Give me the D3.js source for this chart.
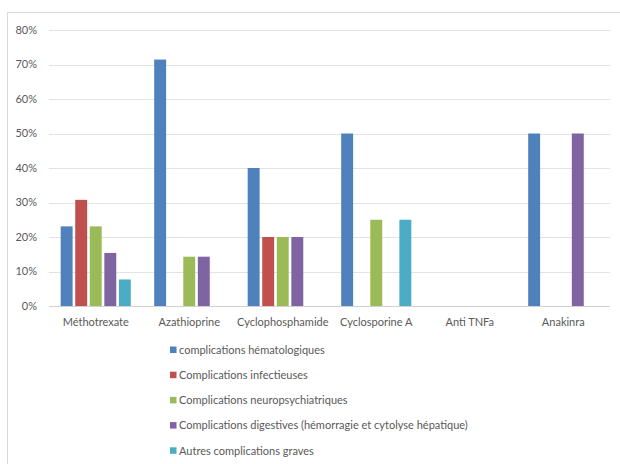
<!DOCTYPE html>
<html>
<head>
<meta charset="utf-8">
<script src="https://cdn.jsdelivr.net/npm/d3@7"></script>
<style>
  body { margin: 0; background: #fff; }
  text { font-family: Lato, "Open Sans", sans-serif; fill: #595959; }
</style>
</head>
<body>
<svg id="chart" width="620" height="464"></svg>
<script>
// categories and series, values in %
var drugs = ["Méthotrexate", "Azathioprine", "Cyclophosphamide", "Cyclosporine A", "Anti TNFa", "Anakinra"];
var seriesNames = [
    "complications hématologiques",
    "Complications infectieuses",
    "Complications neuropsychiatriques",
    "Complications digestives (hémorragie et cytolyse hépatique)",
    "Autres complications graves"
];
var hemato   = [23.08, 71.43, 40, 50, null, 50];
var infect   = [30.77, null, 20, null, null, null];
var neuro    = [23.08, 14.29, 20, 25, null, null];
var digest   = [15.38, 14.29, 20, null, null, 50];
var autres   = [7.69, null, null, 25, null, null];
var yTicks = [0, 10, 20, 30, 40, 50, 60, 70, 80];

var colors = ["#4F81BD", "#C0504D", "#9BBB59", "#8064A2", "#4BACC6"];
var allSeries = [hemato, infect, neuro, digest, autres];

var svg = d3.select("#chart");

// outer frame of the chart
svg.append("rect")
    .attr("x", 7.5).attr("y", 12.5)
    .attr("width", 640).attr("height", 470)
    .attr("fill", "none")
    .attr("stroke", "#d9d9d9");

var plotLeft = 49, plotRight = 610, plotTop = 30, plotBottom = 306;

var x0 = d3.scaleBand()
    .domain(drugs)
    .range([plotLeft, plotRight])
    .paddingInner(0.25)
    .paddingOuter(0.125);

var x1 = d3.scaleBand()
    .domain(d3.range(seriesNames.length))
    .range([0, x0.bandwidth()])
    .paddingInner(0.18);

var y = d3.scaleLinear().domain([0, 80]).range([plotBottom, plotTop]);

// gridlines
svg.append("g").selectAll("line").data(yTicks).enter().append("line")
    .attr("x1", plotLeft).attr("x2", plotRight)
    .attr("y1", function(d) { return Math.round(y(d)) + 0.5; })
    .attr("y2", function(d) { return Math.round(y(d)) + 0.5; })
    .attr("stroke", function(d) { return d === 0 ? "#d0d0d0" : "#e3e3e3"; })
    .attr("stroke-width", 1);

// y tick labels
svg.append("g").selectAll("text").data(yTicks).enter().append("text")
    .attr("x", 37)
    .attr("y", function(d) { return y(d); })
    .attr("dy", "0.35em")
    .attr("text-anchor", "end")
    .attr("font-size", 11)
    .text(function(d) { return d + "%"; });

// bars
for (var s = 0; s < allSeries.length; s++) {
    var vals = allSeries[s];
    svg.append("g").selectAll("rect")
        .data(drugs.map(function(d, i) { return {drug: d, v: vals[i]}; })
            .filter(function(d) { return d.v != null; }))
        .enter().append("rect")
        .attr("x", function(d) { return x0(d.drug) + x1(s); })
        .attr("y", function(d) { return y(d.v); })
        .attr("width", x1.bandwidth())
        .attr("height", function(d) { return y(0) - y(d.v); })
        .attr("fill", colors[s]);
}

// category labels
svg.append("g").selectAll("text").data(drugs).enter().append("text")
    .attr("x", function(d) { return x0(d) + x0.bandwidth() / 2; })
    .attr("y", 322)
    .attr("dy", "0.35em")
    .attr("text-anchor", "middle")
    .attr("font-size", 11)
    .text(function(d) { return d; });

// legend
var legend = svg.append("g").selectAll("g").data(seriesNames).enter().append("g")
    .attr("transform", function(d, i) { return "translate(170," + (350 + i * 25.2) + ")"; });
legend.append("rect")
    .attr("x", 0).attr("y", -3.5)
    .attr("width", 6.5).attr("height", 6.5)
    .attr("fill", function(d, i) { return colors[i]; });
legend.append("text")
    .attr("x", 9)
    .attr("y", 0)
    .attr("dy", "0.35em")
    .attr("font-size", 11)
    .text(function(d) { return d; });
</script>
</body>
</html>
